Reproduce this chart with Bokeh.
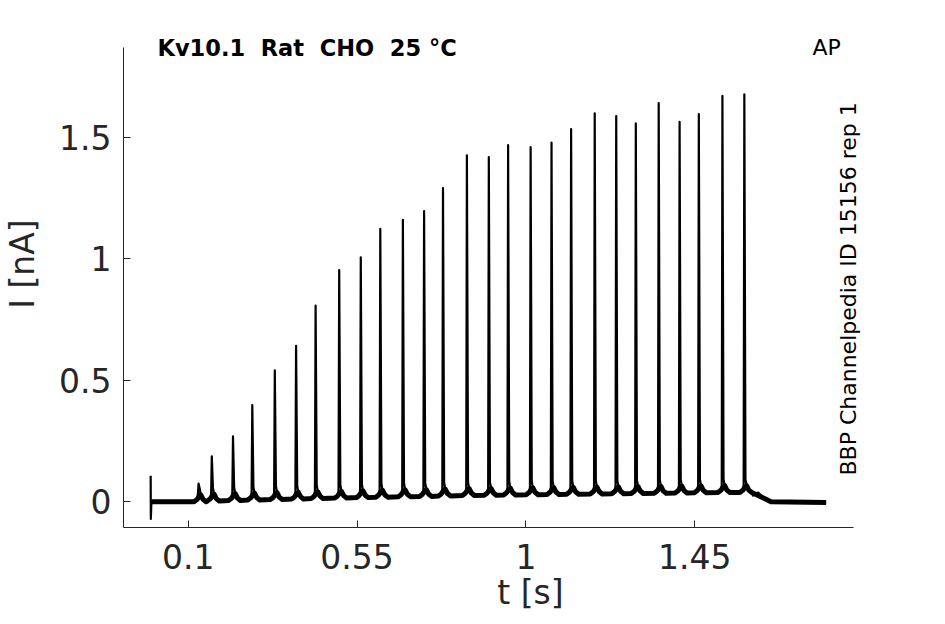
from bokeh.plotting import figure
from bokeh.models import Range1d, FixedTicker, Label
from bokeh.embed import file_html
from bokeh.resources import INLINE

# ---- data ----
spike_t = [0.1276, 0.1629, 0.2194, 0.2708, 0.3308, 0.3875, 0.4395, 0.5024, 0.5599,
           0.6119, 0.6721, 0.7286, 0.7790, 0.8427, 0.9011, 0.9525, 1.0125, 1.0682,
           1.1204, 1.1833, 1.2406, 1.2928, 1.3538, 1.4095, 1.4607, 1.5236, 1.5820]
spike_peak = [0.075, 0.187, 0.269, 0.398, 0.541, 0.642, 0.807, 0.954, 1.006,
              1.123, 1.160, 1.197, 1.291, 1.426, 1.419, 1.468, 1.460, 1.479,
              1.534, 1.599, 1.588, 1.558, 1.641, 1.564, 1.596, 1.671, 1.677]
spike_base = [0.000, 0.003, 0.005, 0.007, 0.009, 0.011, 0.013, 0.015, 0.017,
              0.019, 0.021, 0.022, 0.024, 0.026, 0.027, 0.028, 0.029, 0.030,
              0.031, 0.032, 0.033, 0.034, 0.035, 0.036, 0.037, 0.038, 0.038]
start_t = [0.0000, 0.0004, 0.0020]
start_i = [0.107, -0.071, 0.000]
end_t = [1.6050, 1.6190, 1.6330, 1.6530, 1.8000]
end_i = [0.025, 0.038, 0.015, 0.000, -0.003]
# spike waveform shape (offsets in s, added current)
shape_dt = [-0.012, -0.005, -0.0018, 0.0, 0.003, 0.006, 0.012, 0.020]
shape_di = [0.000, 0.008, 0.030, None, 0.055, 0.028, 0.010, 0.000]

x_ticks = [0.1, 0.55, 1, 1.45]
x_tick_labels = ["0.1", "0.55", "1", "1.45"]
y_ticks = [0, 0.5, 1, 1.5]
y_tick_labels = ["0", "0.5", "1", "1.5"]
x_axis_extent = (-0.0724, 1.874)
y_axis_extent = (-0.106, 1.870)

# ---- build trace ----
tr_t = list(start_t)
tr_i = list(start_i)
base_t, base_i = [start_t[-1]], [start_i[-1]]
for t, pk, b in zip(spike_t, spike_peak, spike_base):
    for dt, di in zip(shape_dt, shape_di):
        tr_t.append(t + dt)
        tr_i.append(pk if di is None else b + di)
        if di is not None and abs(dt) >= 0.005:
            base_t.append(t + dt)
            base_i.append(b + di)
tr_t += end_t
tr_i += end_i
base_t += end_t[2:]
base_i += end_i[2:]

FONT = "DejaVu Sans"
TXT = "#262626"
NB = "\u00a0"

W, H = 937, 614
BL, BB = 119, 87          # left / bottom borders; frame reaches top and right edges
AX_W, AX_H = 734, 480     # drawn axes box size in px
fw, fh = W - BL, H - BB
x_lo, x_hi = x_axis_extent
y_lo, y_hi = y_axis_extent
x_end = x_lo + (x_hi - x_lo) * fw / AX_W
y_end = y_lo + (y_hi - y_lo) * fh / AX_H

p = figure(width=W, height=H, min_border_left=BL, min_border_right=0,
           min_border_top=0, min_border_bottom=BB,
           x_range=Range1d(x_lo, x_end), y_range=Range1d(y_lo, y_end),
           output_backend="svg", toolbar_location=None, tools="")
p.outline_line_color = None
p.xgrid.visible = False
p.ygrid.visible = False
p.background_fill_color = "white"
p.border_fill_color = "white"

p.line(base_t, base_i, line_color="black", line_width=5, line_join="round")
p.line(tr_t, tr_i, line_color="black", line_width=2.2, line_join="round")

for ax, ticks, labels, bnd in ((p.xaxis[0], x_ticks, x_tick_labels, x_axis_extent),
                               (p.yaxis[0], y_ticks, y_tick_labels, y_axis_extent)):
    ax.ticker = FixedTicker(ticks=ticks)
    ax.bounds = bnd
    ax.major_label_overrides = {k: v for k, v in zip(ticks, labels)}
    ax.minor_tick_line_color = None
    ax.major_tick_in = 7
    ax.major_tick_out = 0
    ax.axis_line_color = TXT
    ax.major_tick_line_color = TXT
    ax.major_label_text_font = FONT
    ax.major_label_text_font_size = "33px"
    ax.major_label_text_color = TXT
    ax.axis_label_text_font = FONT
    ax.axis_label_text_font_size = "33px"
    ax.axis_label_text_color = TXT
    ax.axis_label_text_font_style = "normal"

p.xaxis.axis_label = "t [s]"
p.yaxis.axis_label = "I [nA]"
p.xaxis.major_label_standoff = 16
p.yaxis.major_label_standoff = 12
p.xaxis.axis_label_standoff = 1
p.yaxis.axis_label_standoff = 14

p.add_layout(Label(x=34, y=480, x_units="screen", y_units="screen",
                   text=f"Kv10.1{NB}{NB}Rat{NB}{NB}CHO{NB}{NB}25{NB}°C", text_font=FONT,
                   text_font_style="bold",
                   text_font_size="22.5px", text_color="black", text_baseline="alphabetic"))
p.add_layout(Label(x=689, y=480, x_units="screen", y_units="screen",
                   text="AP", text_font=FONT, text_font_size="22px", text_color="black",
                   text_baseline="alphabetic"))
p.add_layout(Label(x=725, y=52, x_units="screen", y_units="screen", angle=1.5707963,
                   text="BBP Channelpedia ID 15156 rep 1", text_font=FONT,
                   text_font_size="22px", text_color="black",
                   text_baseline="alphabetic", text_align="left"))

open("out.html", "w").write(file_html(p, INLINE))
